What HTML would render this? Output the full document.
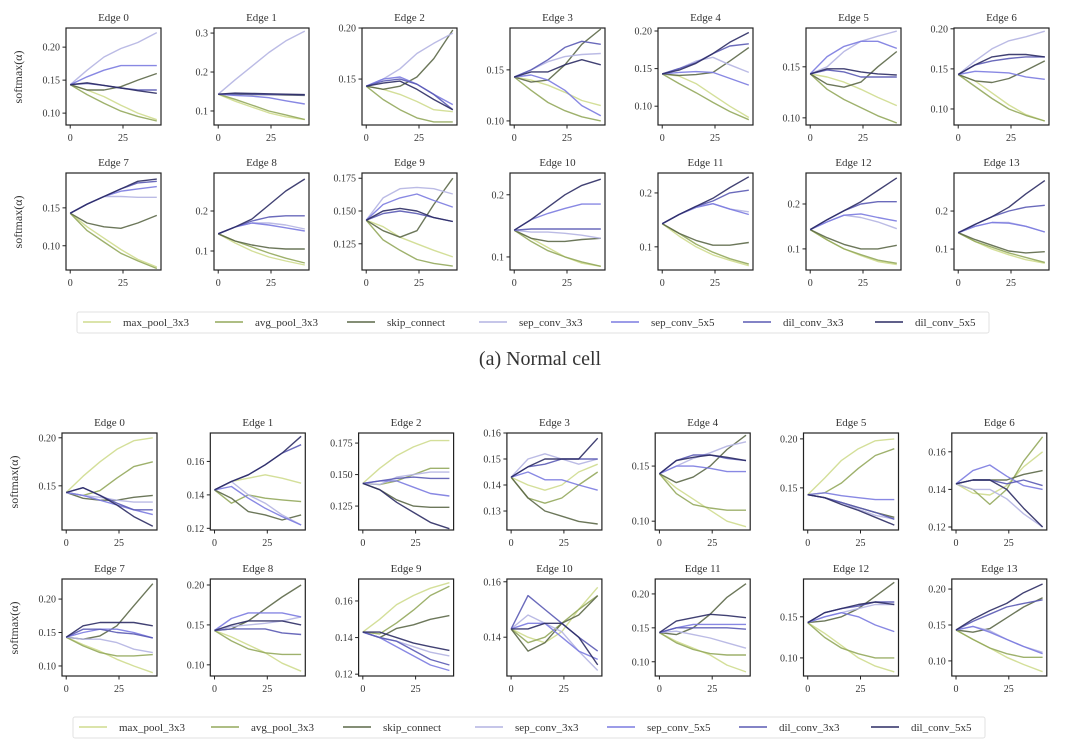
<!DOCTYPE html>
<html><head><meta charset="utf-8"><style>
html,body{margin:0;padding:0;background:#fff;}
svg text{font-family:"Liberation Serif",serif;fill:#333;}
</style></head><body>
<svg id="chart" width="1080" height="747" viewBox="0 0 1080 747" xmlns="http://www.w3.org/2000/svg"></svg>
<script>
const epochs=[0,8,16,24,32,41];
const opNames=["max_pool_3x3","avg_pool_3x3","skip_connect","sep_conv_3x3","sep_conv_5x5","dil_conv_3x3","dil_conv_5x5"];
const opColors=["#cfdc8e","#93a85c","#5c6848","#b4b4e2","#7b7be0","#5a5ab4","#2c2c64"];
// Normal cell: per-edge series (order matches opNames)
const nE0=[[.143,.135,.125,.112,.100,.090],[.143,.128,.115,.103,.095,.088],[.143,.135,.135,.140,.150,.160],[.143,.165,.185,.198,.207,.222],[.143,.155,.165,.172,.172,.172],[.143,.145,.142,.138,.135,.135],[.143,.146,.142,.138,.134,.130]];
const nE1=[[.143,.125,.11,.095,.085,.078],[.143,.13,.115,.1,.09,.078],[.143,.143,.142,.142,.141,.14],[.143,.18,.215,.25,.28,.305],[.143,.14,.138,.134,.126,.118],[.143,.144,.143,.142,.142,.141],[.143,.146,.145,.144,.143,.142]];
const nE2=[[.143,.14,.135,.128,.12,.118],[.143,.13,.12,.112,.108,.108],[.143,.14,.143,.152,.17,.198],[.143,.15,.16,.175,.185,.195],[.143,.15,.152,.145,.135,.125],[.143,.148,.15,.145,.135,.12],[.143,.146,.148,.14,.13,.12]];
const nE3=[[.143,.14,.135,.128,.12,.115],[.143,.13,.118,.11,.104,.1],[.143,.138,.14,.155,.175,.19],[.143,.15,.158,.163,.165,.166],[.143,.145,.14,.13,.115,.105],[.143,.15,.16,.172,.178,.175],[.143,.148,.148,.155,.16,.155]];
const nE4=[[.143,.14,.13,.115,.1,.085],[.143,.13,.118,.105,.093,.082],[.143,.141,.142,.145,.16,.178],[.143,.15,.16,.165,.155,.145],[.143,.145,.146,.145,.137,.128],[.143,.15,.158,.17,.18,.183],[.143,.148,.157,.17,.185,.198]];
const nE5=[[.143,.14,.135,.128,.12,.112],[.143,.128,.118,.11,.102,.095],[.143,.133,.13,.135,.15,.165],[.143,.15,.165,.175,.18,.185],[.143,.16,.17,.175,.175,.168],[.143,.147,.145,.14,.14,.14],[.143,.148,.148,.145,.143,.142]];
const nE6=[[.143,.135,.12,.105,.093,.085],[.143,.128,.113,.1,.092,.085],[.143,.135,.133,.138,.148,.16],[.143,.16,.175,.185,.19,.197],[.143,.147,.146,.145,.14,.137],[.143,.155,.16,.163,.165,.165],[.143,.155,.165,.168,.168,.165]];
const nE7=[[.143,.125,.11,.095,.082,.072],[.143,.12,.105,.09,.08,.07],[.143,.13,.125,.123,.13,.14],[.143,.155,.165,.165,.164,.164],[.143,.155,.165,.172,.175,.178],[.143,.155,.165,.175,.183,.185],[.143,.155,.165,.175,.185,.188]];
const nE8=[[.143,.12,.1,.085,.075,.065],[.143,.125,.11,.095,.082,.07],[.143,.125,.115,.108,.105,.105],[.143,.16,.17,.17,.165,.155],[.143,.16,.17,.165,.158,.15],[.143,.16,.175,.185,.188,.188],[.143,.16,.18,.215,.25,.28]];
const nE9=[[.143,.138,.13,.125,.12,.115],[.143,.128,.12,.113,.11,.108],[.143,.135,.13,.135,.155,.175],[.143,.16,.167,.168,.167,.163],[.143,.155,.16,.163,.158,.153],[.143,.148,.15,.148,.145,.142],[.143,.15,.152,.15,.145,.142]];
const nE10=[[.143,.13,.115,.1,.09,.085],[.143,.125,.11,.1,.092,.085],[.143,.13,.125,.125,.128,.13],[.143,.14,.14,.138,.135,.13],[.143,.16,.17,.178,.185,.185],[.143,.145,.145,.145,.145,.145],[.143,.16,.18,.2,.215,.225]];
const nE11=[[.143,.12,.1,.085,.075,.065],[.143,.125,.105,.09,.078,.068],[.143,.125,.112,.103,.103,.108],[.143,.16,.175,.18,.17,.165],[.143,.16,.173,.18,.17,.16],[.143,.16,.175,.185,.2,.205],[.143,.16,.175,.19,.21,.23]];
const nE12=[[.143,.12,.1,.085,.072,.065],[.143,.12,.1,.087,.075,.068],[.143,.125,.11,.1,.1,.108],[.143,.16,.175,.17,.16,.145],[.143,.16,.175,.178,.17,.162],[.143,.165,.185,.2,.205,.205],[.143,.165,.185,.205,.23,.258]];
const nE13=[[.143,.12,.1,.085,.072,.063],[.143,.12,.105,.09,.078,.065],[.143,.125,.11,.095,.09,.093],[.143,.16,.17,.17,.16,.145],[.143,.16,.17,.168,.16,.145],[.143,.165,.185,.2,.21,.215],[.143,.165,.185,.21,.245,.28]];
// Reduction cell
const rE0=[[.143,.16,.175,.188,.197,.2],[.143,.14,.145,.158,.17,.175],[.143,.137,.135,.135,.138,.14],[.143,.14,.138,.135,.133,.133],[.143,.14,.135,.13,.125,.12],[.143,.148,.14,.132,.125,.125],[.143,.148,.14,.13,.118,.108]];
const rE1=[[.143,.148,.15,.152,.15,.147],[.143,.135,.14,.138,.137,.136],[.143,.138,.13,.128,.125,.128],[.143,.148,.14,.135,.128,.122],[.143,.145,.138,.132,.127,.122],[.143,.148,.152,.158,.165,.17],[.143,.148,.152,.158,.165,.175]];
const rE2=[[.143,.155,.165,.172,.177,.177],[.143,.142,.145,.15,.155,.155],[.143,.138,.13,.125,.124,.124],[.143,.142,.148,.15,.152,.152],[.143,.145,.145,.14,.135,.133],[.143,.145,.147,.148,.147,.147],[.143,.138,.128,.12,.112,.107]];
const rE3=[[.143,.14,.138,.14,.145,.148],[.143,.135,.133,.135,.14,.145],[.143,.135,.13,.128,.126,.125],[.143,.15,.152,.15,.148,.15],[.143,.145,.142,.142,.14,.138],[.143,.147,.148,.15,.15,.15],[.143,.147,.15,.15,.15,.158]];
const rE4=[[.143,.13,.12,.11,.1,.095],[.143,.125,.115,.112,.11,.11],[.143,.135,.14,.15,.165,.178],[.143,.15,.157,.162,.168,.172],[.143,.15,.15,.148,.145,.145],[.143,.155,.16,.16,.157,.155],[.143,.155,.158,.16,.158,.155]];
const rE5=[[.143,.16,.178,.19,.198,.2],[.143,.145,.155,.17,.183,.19],[.143,.14,.135,.13,.125,.12],[.143,.14,.135,.128,.122,.118],[.143,.145,.142,.14,.138,.138],[.143,.14,.135,.13,.125,.118],[.143,.14,.133,.127,.12,.112]];
const rE6=[[.143,.138,.137,.142,.152,.16],[.143,.14,.132,.14,.155,.168],[.143,.145,.145,.145,.148,.15],[.143,.14,.14,.135,.127,.12],[.143,.15,.153,.147,.142,.14],[.143,.145,.145,.143,.145,.142],[.143,.145,.145,.14,.13,.12]];
const rE7=[[.143,.132,.122,.11,.1,.09],[.143,.13,.12,.115,.115,.117],[.143,.14,.145,.16,.19,.223],[.143,.14,.14,.135,.125,.12],[.143,.15,.155,.155,.15,.142],[.143,.155,.155,.15,.148,.142],[.143,.16,.165,.165,.165,.16]];
const rE8=[[.143,.135,.125,.115,.102,.092],[.143,.13,.12,.115,.113,.113],[.143,.145,.155,.17,.185,.2],[.143,.148,.15,.152,.155,.16],[.143,.158,.165,.165,.165,.16],[.143,.145,.145,.145,.14,.138],[.143,.15,.155,.155,.155,.15]];
const rE9=[[.143,.15,.158,.163,.167,.17],[.143,.142,.148,.155,.163,.168],[.143,.14,.145,.147,.15,.152],[.143,.14,.138,.135,.132,.13],[.143,.14,.135,.13,.125,.122],[.143,.14,.138,.133,.128,.125],[.143,.143,.14,.137,.135,.133]];
const rE10=[[.143,.14,.138,.142,.15,.158],[.143,.138,.14,.145,.15,.155],[.143,.135,.138,.145,.148,.155],[.143,.148,.145,.142,.135,.128],[.143,.145,.145,.14,.135,.132],[.143,.155,.15,.145,.14,.135],[.143,.143,.145,.145,.14,.13]];
const rE11=[[.143,.13,.12,.11,.095,.085],[.143,.128,.118,.112,.11,.11],[.143,.14,.15,.17,.195,.215],[.143,.145,.14,.135,.128,.12],[.143,.15,.155,.155,.155,.155],[.143,.15,.15,.15,.15,.148],[.143,.16,.165,.17,.168,.165]];
const rE12=[[.143,.13,.115,.1,.09,.083],[.143,.125,.112,.105,.1,.1],[.143,.145,.15,.16,.175,.192],[.143,.15,.155,.16,.165,.165],[.143,.15,.155,.15,.14,.132],[.143,.155,.16,.163,.168,.168],[.143,.155,.16,.165,.168,.165]];
const rE13=[[.143,.13,.118,.105,.095,.085],[.143,.13,.118,.11,.105,.105],[.143,.14,.145,.16,.175,.188],[.143,.148,.142,.13,.12,.112],[.143,.148,.14,.13,.12,.11],[.143,.155,.165,.175,.18,.185],[.143,.158,.17,.18,.195,.207]];
const normalData=[nE0,nE1,nE2,nE3,nE4,nE5,nE6,nE7,nE8,nE9,nE10,nE11,nE12,nE13];
const reduceData=[rE0,rE1,rE2,rE3,rE4,rE5,rE6,rE7,rE8,rE9,rE10,rE11,rE12,rE13];
const normalYMin=[.082,.064,.105,.096,.075,.093,.080,.068,.0525,.105,.079,.057,.053,.045];
const normalYMax=[.229,.313,.200,.191,.204,.188,.201,.196,.295,.179,.235,.237,.269,.300];
const normalTicks=[[.10,.15,.20],[.1,.2,.3],[.15,.20],[.10,.15],[.10,.15,.20],[.10,.15],[.10,.15,.20],[.10,.15],[.1,.2],[.125,.150,.175],[.1,.2],[.1,.2],[.1,.2],[.1,.2]];
const normalTickLabels=[["0.10","0.15","0.20"],["0.1","0.2","0.3"],["0.15","0.20"],["0.10","0.15"],["0.10","0.15","0.20"],["0.10","0.15"],["0.10","0.15","0.20"],["0.10","0.15"],["0.1","0.2"],["0.125","0.150","0.175"],["0.1","0.2"],["0.1","0.2"],["0.1","0.2"],["0.1","0.2"]];
const reduceYMin=[.104,.119,.106,.1227,.092,.107,.1184,.085,.086,.119,.126,.079,.078,.079];
const reduceYMax=[.205,.177,.183,.160,.180,.206,.170,.230,.2075,.172,.161,.222,.196,.214];
const reduceTicks=[[.15,.20],[.12,.14,.16],[.125,.150,.175],[.13,.14,.15,.16],[.10,.15],[.15,.20],[.12,.14,.16],[.10,.15,.20],[.10,.15,.20],[.12,.14,.16],[.14,.16],[.10,.15,.20],[.10,.15],[.10,.15,.20]];
const reduceTickLabels=[["0.15","0.20"],["0.12","0.14","0.16"],["0.125","0.150","0.175"],["0.13","0.14","0.15","0.16"],["0.10","0.15"],["0.15","0.20"],["0.12","0.14","0.16"],["0.10","0.15","0.20"],["0.10","0.15","0.20"],["0.12","0.14","0.16"],["0.14","0.16"],["0.10","0.15","0.20"],["0.10","0.15"],["0.10","0.15","0.20"]];
const xTicks=[0,25];
const xMin=-2, xMax=43;

const NS="http://www.w3.org/2000/svg";
const svg=document.getElementById('chart');
function mk(tag,attrs,parent){const e=document.createElementNS(NS,tag);for(const k in attrs)e.setAttribute(k,attrs[k]);(parent||svg).appendChild(e);return e;}

function panel(prefix,idx,data,ymin,ymax,ticks,tlabels,left,top){
  const W=95,H=97;
  const g=mk('g',{});
  
  
  const xs=v=>left+(v-xMin)/(xMax-xMin)*W;
  const ys=v=>top+H-(v-ymin)/(ymax-ymin)*H;
  const t=mk('text',{x:left+W/2,y:top-7,'text-anchor':'middle','font-size':'11'},g);
  t.textContent='Edge '+idx;
  
  
  data.forEach((ser,si)=>{
    const pts=ser.map((v,i)=>xs(epochs[i]).toFixed(1)+','+ys(v).toFixed(1)).join(' ');
    const p=mk('polyline',{points:pts,fill:'none',stroke:opColors[si],'stroke-width':'1.4','stroke-linejoin':'round',opacity:'0.9'},g);
    
    
  });
  const box=mk('rect',{x:left,y:top,width:W,height:H,fill:'none',stroke:'#222','stroke-width':'1.2'},g);
  
  
  ticks.forEach((tv,i)=>{
    const y=ys(tv);
    mk('line',{x1:left-3.5,x2:left,y1:y,y2:y,stroke:'#222','stroke-width':'1'},g);
    const tl=mk('text',{x:left-6,y:y+3.5,'text-anchor':'end','font-size':'10'},g);
    tl.textContent=tlabels[i];
    
    
  });
  xTicks.forEach(tv=>{
    const x=xs(tv);
    mk('line',{x1:x,x2:x,y1:top+H,y2:top+H+3.5,stroke:'#222','stroke-width':'1'},g);
    const tl=mk('text',{x:x,y:top+H+16,'text-anchor':'middle','font-size':'10'},g);
    tl.textContent=String(tv);
    
    
  });
}
function ylabel(x,y){
  const t=mk('text',{x:0,y:0,'text-anchor':'middle','font-size':'12',transform:'translate('+x+','+y+') rotate(-90)'});
  t.textContent='softmax(α)';
  
  
}
function legend(y,x0){
  const g=mk('g',{});
  
  
  mk('rect',{x:x0-6,y:y-10,width:912,height:21,fill:'#fff',stroke:'#e2e2e2','stroke-width':'1',rx:2},g);
  opNames.forEach((n,i)=>{
    const x=x0+132*i;
    const e=mk('g',{},g);
    
    
    mk('line',{x1:x,x2:x+28,y1:y,y2:y,stroke:opColors[i],'stroke-width':'1.6'},e);
    const t=mk('text',{x:x+40,y:y+4,'font-size':'11',fill:'#555'},e);
    t.textContent=n;
  });
}
for(let i=0;i<14;i++){
  const c=i%7,r=Math.floor(i/7);
  panel('normal',i,normalData[i],normalYMin[i],normalYMax[i],normalTicks[i],normalTickLabels[i],66+148*c,r?173:28);
  panel('reduction',i,reduceData[i],reduceYMin[i],reduceYMax[i],reduceTicks[i],reduceTickLabels[i],62+148.3*c,r?579:433);
}
ylabel(22,77);ylabel(22,222);ylabel(18,482);ylabel(18,628);
legend(322,83);
legend(727,79);
const cap=mk('text',{x:540,y:365,'text-anchor':'middle','font-size':'20',fill:'#222'});
cap.textContent='(a) Normal cell';


</script>
</body></html>
